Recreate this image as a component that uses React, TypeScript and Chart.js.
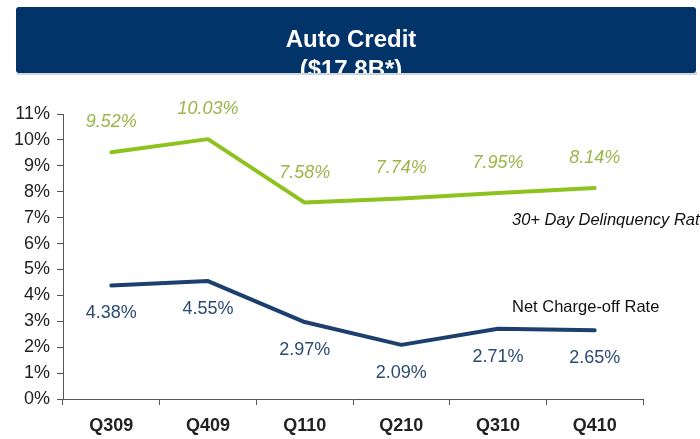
import React, { useEffect, useRef } from "react";
import { Chart, registerables } from "chart.js";

Chart.register(...registerables);

const categories = ["Q309", "Q409", "Q110", "Q210", "Q310", "Q410"];
const delinquency = [9.52, 10.03, 7.58, 7.74, 7.95, 8.14];
const chargeOff = [4.38, 4.55, 2.97, 2.09, 2.71, 2.65];
const yTicks = [0, 1, 2, 3, 4, 5, 6, 7, 8, 9, 10, 11];
const titleLine1 = "Auto Credit";
const titleLine2 = "($17.8B*)";
const delinquencyName = "30+ Day Delinquency Rate";
const chargeOffName = "Net Charge-off Rate";

const FONT = "'Liberation Sans', Arial, sans-serif";

const headerPlugin = {
  id: "header",
  beforeDraw(chart: any) {
    const ctx = chart.ctx;
    ctx.save();
    ctx.fillStyle = "#cfd6e0";
    ctx.fillRect(17, 72, 680, 3);
    ctx.fillStyle = "#02346a";
    ctx.beginPath();
    (ctx as any).roundRect ? (ctx as any).roundRect(16, 7, 680, 66, 3) : ctx.rect(16, 7, 680, 66);
    ctx.fill();
    ctx.clip();
    ctx.fillStyle = "#ffffff";
    ctx.textAlign = "center";
    ctx.textBaseline = "alphabetic";
    ctx.font = `bold 24px ${FONT}`;
    ctx.fillText(titleLine1, 351, 47);
    ctx.fillText(titleLine2, 351, 77);
    ctx.restore();
  },
};

const labelPlugin = {
  id: "valueLabels",
  afterDatasetsDraw(chart: any) {
    const ctx = chart.ctx;
    ctx.save();
    ctx.textAlign = "center";
    ctx.textBaseline = "middle";
    const m0 = chart.getDatasetMeta(0);
    ctx.font = `italic 18px ${FONT}`;
    ctx.fillStyle = "#9cb548";
    m0.data.forEach((pt: any, i: number) => {
      ctx.fillText(delinquency[i].toFixed(2) + "%", pt.x, pt.y - 30);
    });
    const m1 = chart.getDatasetMeta(1);
    ctx.font = `18px ${FONT}`;
    ctx.fillStyle = "#2c4a73";
    m1.data.forEach((pt: any, i: number) => {
      ctx.fillText(chargeOff[i].toFixed(2) + "%", pt.x, pt.y + 28);
    });
    ctx.textAlign = "left";
    ctx.fillStyle = "#111111";
    ctx.font = `italic 16.5px ${FONT}`;
    ctx.fillText(delinquencyName, 512, 220);
    ctx.font = `16.5px ${FONT}`;
    ctx.fillText(chargeOffName, 512, 307);
    ctx.restore();
  },
};

export default function App() {
  const ref = useRef<HTMLCanvasElement | null>(null);
  useEffect(() => {
    if (!ref.current) return;
    const chart = new Chart(ref.current, {
      type: "line",
      data: {
        labels: categories,
        datasets: [
          {
            label: delinquencyName,
            data: delinquency,
            borderColor: "#8dc21f",
            borderWidth: 4,
            pointRadius: 0,
            tension: 0,
            borderCapStyle: "round",
            borderJoinStyle: "round",
          },
          {
            label: chargeOffName,
            data: chargeOff,
            borderColor: "#1c3f6e",
            borderWidth: 4,
            pointRadius: 0,
            tension: 0,
            borderCapStyle: "round",
            borderJoinStyle: "round",
          },
        ],
      },
      options: {
        responsive: false,
        animation: false,
        layout: { padding: { left: 0, top: 114, right: 57, bottom: 0 } },
        plugins: {
          legend: { display: false },
          title: { display: false },
          tooltip: { enabled: false },
        },
        scales: {
          x: {
            offset: true,
            grid: {
              offset: true,
              drawOnChartArea: false,
              drawTicks: true,
              tickLength: 6,
              color: "#555555",
            },
            border: { color: "#555555", width: 1 },
            ticks: {
              font: { family: FONT, size: 18, weight: "bold" },
              color: "#222222",
              padding: 10,
              maxRotation: 0,
            },
            afterFit: (s: any) => {
              s.height = 40;
            },
          },
          y: {
            min: 0,
            max: 11,
            afterBuildTicks: (s: any) => {
              s.ticks = yTicks.map((v) => ({ value: v }));
            },
            grid: {
              drawOnChartArea: false,
              drawTicks: true,
              tickLength: 6,
              color: "#555555",
            },
            border: { color: "#555555", width: 1 },
            ticks: {
              font: { family: FONT, size: 18 },
              color: "#222222",
              padding: 7,
              callback: (v: any) => v + "%",
            },
            afterFit: (s: any) => {
              s.width = 63;
            },
          },
        },
      },
      plugins: [headerPlugin, labelPlugin],
    });
    return () => chart.destroy();
  }, []);
  return (
    <div style={{ position: "fixed", left: 0, top: 0, width: 700, height: 439, background: "#fff" }}>
      <canvas ref={ref} width={700} height={439} style={{ display: "block" }} />
    </div>
  );
}
